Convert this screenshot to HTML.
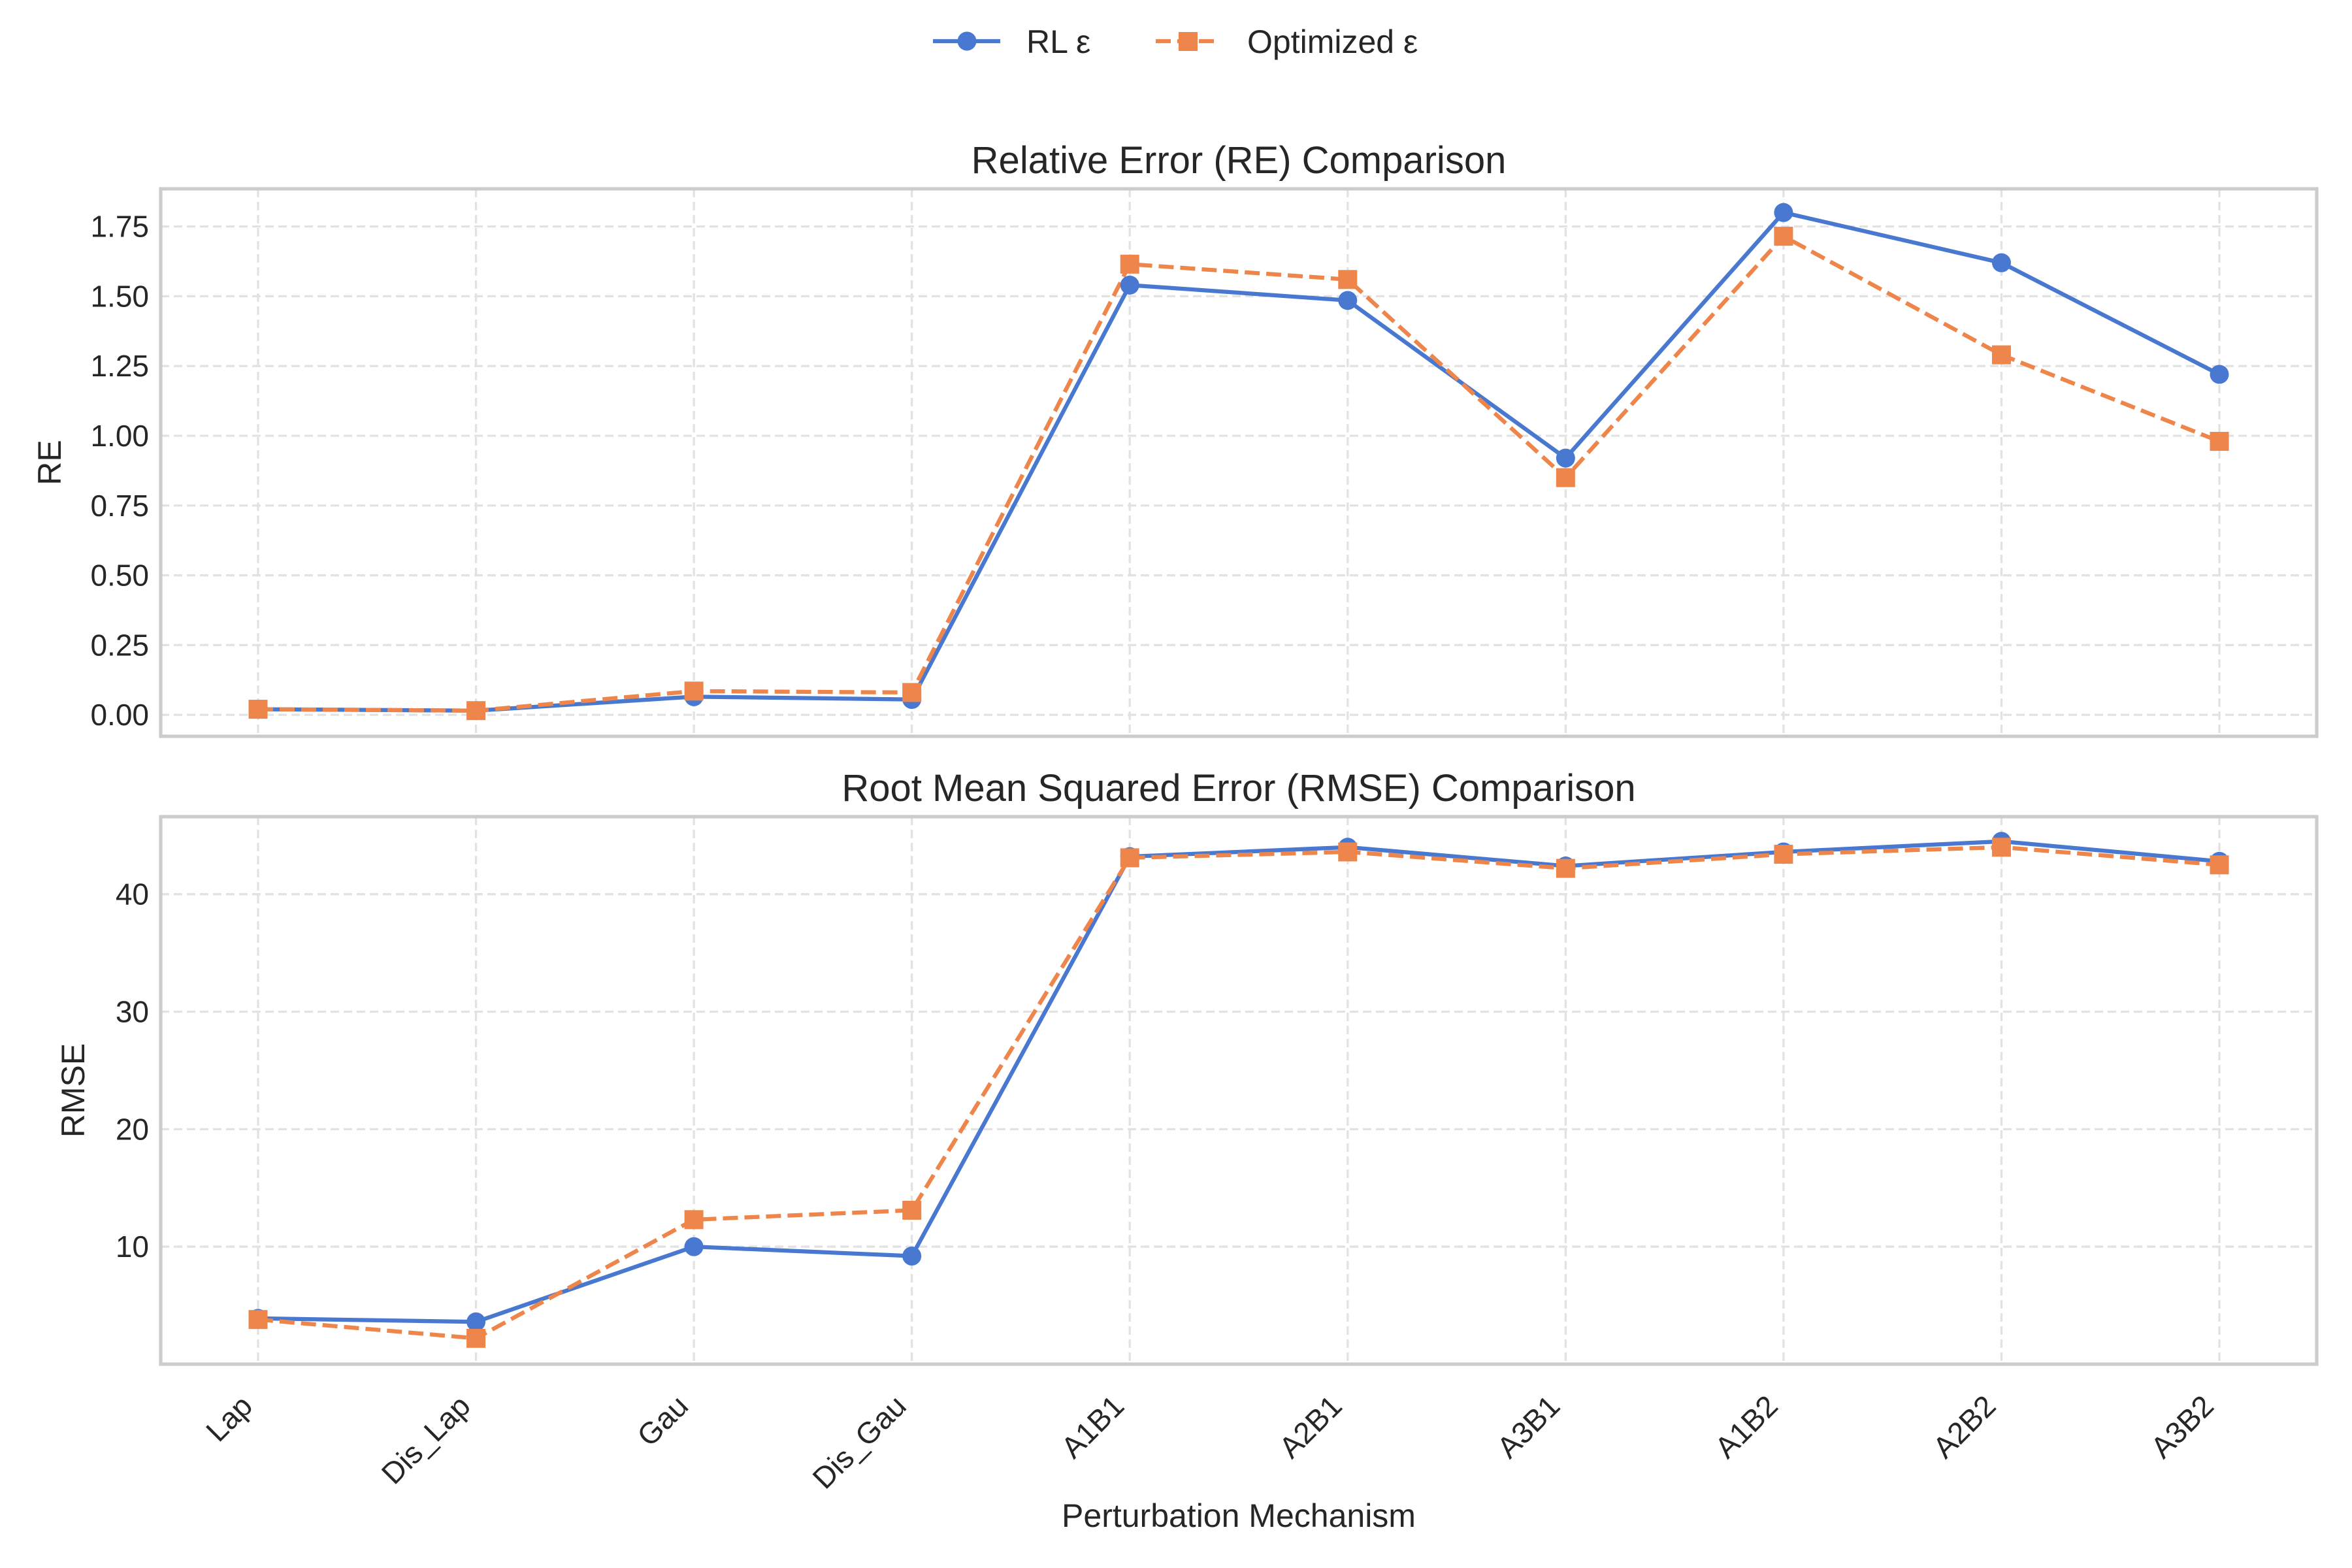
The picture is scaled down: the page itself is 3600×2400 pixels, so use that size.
<!DOCTYPE html>
<html><head><meta charset="utf-8"><style>
html,body{margin:0;padding:0;background:#fff;}
svg{display:block;font-family:"Liberation Sans",sans-serif;}
</style></head><body>
<svg id="chart" width="3600" height="2400" viewBox="0 0 3600 2400" xmlns="http://www.w3.org/2000/svg">
<g id="legend">
  <g>
    <line x1="1428" y1="63" x2="1531" y2="63" stroke="#4878d0" stroke-width="6.25"/>
    <circle cx="1480" cy="63" r="14.5" fill="#4878d0"/>
    <text x="1571" y="81" font-size="50" fill="#262626">RL ε</text>
  </g>
  <g>
    <line x1="1769" y1="63" x2="1868" y2="63" stroke="#ee854a" stroke-width="6.25" stroke-dasharray="23 10"/>
    <rect x="1804" y="49" width="29" height="29" fill="#ee854a"/>
    <text x="1909" y="81" font-size="50" fill="#262626">Optimized ε</text>
  </g>
</g>
<g id="top"></g>
<g id="bot"></g>
<text x="1896" y="2337" font-size="50" text-anchor="middle" fill="#262626">Perturbation Mechanism</text>
</svg>
<script>
const categories = ["Lap","Dis_Lap","Gau","Dis_Gau","A1B1","A2B1","A3B1","A1B2","A2B2","A3B2"];
const reRL  = [0.02,0.015,0.065,0.055,1.54,1.485,0.92,1.80,1.62,1.22];
const reOpt = [0.02,0.015,0.085,0.08,1.615,1.56,0.85,1.715,1.29,0.98];
const rmseRL  = [3.9,3.6,10.0,9.2,43.2,44.0,42.4,43.6,44.5,42.8];
const rmseOpt = [3.8,2.2,12.3,13.1,43.1,43.6,42.2,43.4,44.0,42.5];
const reTicks = ["0.00","0.25","0.50","0.75","1.00","1.25","1.50","1.75"];
const rmseTicks = ["10","20","30","40"];

const NS="http://www.w3.org/2000/svg";
function mk(tag, attrs, parent){const e=document.createElementNS(NS,tag);for(const k in attrs)e.setAttribute(k,attrs[k]);parent.appendChild(e);return e;}
const L=246,R=3546;
function xs(i){return 395+i*(3397-395)/(categories.length-1);}

function panel(g, top, bottom, ymin, ymax, ticks, s1, s2, title, ylabel, ylabX, showX){
  const ys=v=>bottom-(v-ymin)/(ymax-ymin)*(bottom-top);
  categories.forEach((c,i)=>{
    const gl=mk('line',{x1:xs(i),x2:xs(i),y1:top,y2:bottom,stroke:'#e2e2e2','stroke-width':3.3,'stroke-dasharray':'13 7'},g);
    
    
  });
  ticks.forEach(t=>{
    const v=parseFloat(t), y=ys(v);
    const gl=mk('line',{x1:L,x2:R,y1:y,y2:y,stroke:'#e2e2e2','stroke-width':3.3,'stroke-dasharray':'13 7'},g);
    
    
    const tx=mk('text',{x:L-18,y:y+16,'font-size':46,'text-anchor':'end',fill:'#262626'},g);
    tx.textContent=t;
    
    
  });
  const fr=mk('rect',{x:L,y:top,width:R-L,height:bottom-top,fill:'none',stroke:'#cccccc','stroke-width':5.2},g);
  
  
  const p1=mk('polyline',{points:s1.map((v,i)=>xs(i)+','+ys(v)).join(' '),fill:'none',stroke:'#4878d0','stroke-width':6.25,'stroke-linejoin':'round'},g);
  
  
  const p2=mk('polyline',{points:s2.map((v,i)=>xs(i)+','+ys(v)).join(' '),fill:'none',stroke:'#ee854a','stroke-width':6.25,'stroke-dasharray':'23 10'},g);
  
  
  s1.forEach((v,i)=>{
    const c=mk('circle',{cx:xs(i),cy:ys(v),r:14.5,fill:'#4878d0'},g);
    
    
  });
  s2.forEach((v,i)=>{
    const r=mk('rect',{x:xs(i)-14.5,y:ys(v)-14.5,width:29,height:29,fill:'#ee854a'},g);
    
    
  });
  const tt=mk('text',{x:(L+R)/2,y:top-24,'font-size':58,'text-anchor':'middle',fill:'#262626'},g);
  tt.textContent=title;
  
  
  const cy=(top+bottom)/2;
  const yl=mk('text',{x:ylabX,y:cy,'font-size':50,'text-anchor':'middle',fill:'#262626',transform:`rotate(-90 ${ylabX} ${cy})`},g);
  yl.textContent=ylabel;
  
  
  if(showX){
    categories.forEach((c,i)=>{
      const px=xs(i)-6, py=2155;
      const t=mk('text',{x:px,y:py,'font-size':46,'text-anchor':'end',fill:'#262626',transform:`rotate(-45 ${px} ${py})`},g);
      t.textContent=c;
      
      
    });
  }
}
panel(document.getElementById('top'),289,1127,-0.077,1.885,reTicks,reRL,reOpt,'Relative Error (RE) Comparison','RE',93,false);
panel(document.getElementById('bot'),1250,2088,0.0,46.6,rmseTicks,rmseRL,rmseOpt,'Root Mean Squared Error (RMSE) Comparison','RMSE',129,true);
</script>
</body></html>
